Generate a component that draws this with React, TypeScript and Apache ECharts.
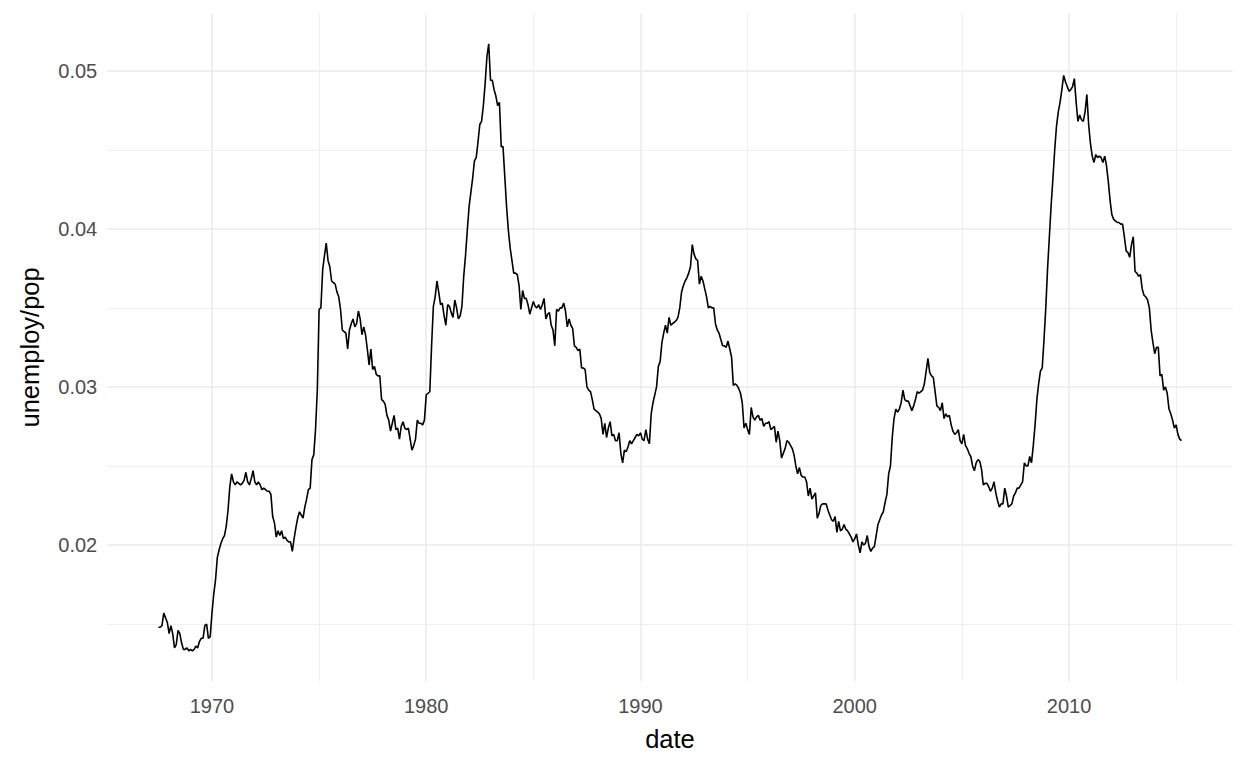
import React, { useEffect, useRef } from "react";
import * as echarts from "echarts";

// Monthly unemploy/pop ratio, starting July 1967
const START_YEAR = 1967;
const START_MONTH = 7;

const ratio1967to1969 = [
  0.0148, 0.0148, 0.0149, 0.0157, 0.0154, 0.0151,
  0.0144, 0.0149, 0.0144, 0.0135, 0.0137, 0.0146, 0.0144, 0.0138, 0.0134, 0.0134, 0.0135, 0.0133,
  0.0134, 0.0133, 0.0134, 0.0136, 0.0135, 0.0139, 0.0141, 0.0141, 0.0149, 0.015, 0.0141, 0.0142,
];
const ratio1970s = [
  0.0157, 0.0169, 0.0178, 0.0192, 0.0197, 0.0201, 0.0204, 0.0206, 0.0212, 0.0222, 0.0237, 0.0245,
  0.024, 0.0238, 0.024, 0.0239, 0.0238, 0.0239, 0.0241, 0.0246, 0.024, 0.0238, 0.0242, 0.0247,
  0.024, 0.0238, 0.024, 0.0238, 0.0235, 0.0236, 0.0235, 0.0234, 0.0234, 0.0232, 0.0218, 0.0214,
  0.0205, 0.0209, 0.0206, 0.0209, 0.0204, 0.0205, 0.0203, 0.0202, 0.0202, 0.0196, 0.0204, 0.0211,
  0.0217, 0.0221, 0.0219, 0.0217, 0.0224, 0.0229, 0.0235, 0.0236, 0.0254, 0.0257, 0.0273, 0.0298,
  0.0349, 0.035, 0.0374, 0.0383, 0.0391, 0.038, 0.0376, 0.0367, 0.0366, 0.0365, 0.036, 0.0357,
  0.0349, 0.0336, 0.0335, 0.0334, 0.0324, 0.0336, 0.034, 0.0343, 0.0338, 0.034, 0.0348, 0.0343,
  0.0333, 0.0338, 0.0333, 0.0324, 0.0314, 0.0324, 0.0311, 0.0313, 0.0308, 0.0307, 0.0307, 0.0292,
  0.0291, 0.0289, 0.0282, 0.0279, 0.0272, 0.0277, 0.0282, 0.0273, 0.0274, 0.0267, 0.0275, 0.0278,
  0.0274, 0.0273, 0.0274, 0.0267, 0.026, 0.0263, 0.0267, 0.0279, 0.0277, 0.0277, 0.0276, 0.0279,
];
const ratio1980s = [
  0.0295, 0.0296, 0.0297, 0.0326, 0.0351, 0.0357, 0.0367, 0.036, 0.0352, 0.0353, 0.0345, 0.0339,
  0.0352, 0.0351, 0.0347, 0.0344, 0.0355, 0.035, 0.0343, 0.0345, 0.0351, 0.037, 0.0383, 0.0399,
  0.0414, 0.0423, 0.0432, 0.0443, 0.0445, 0.0455, 0.0466, 0.0468, 0.0478, 0.0492, 0.0509, 0.0517,
  0.0494, 0.0494, 0.0488, 0.0484, 0.0478, 0.048, 0.0452, 0.0452, 0.0433, 0.0414, 0.0399, 0.0388,
  0.038, 0.0372, 0.0372, 0.0371, 0.0364, 0.0349, 0.0361, 0.0356, 0.0356, 0.0352, 0.0346, 0.035,
  0.0354, 0.0351, 0.035, 0.0352, 0.0349, 0.0352, 0.0356, 0.0343, 0.0346, 0.0347, 0.0339, 0.0336,
  0.0326, 0.0349, 0.0348, 0.035, 0.035, 0.0353, 0.0348, 0.0338, 0.0343, 0.0339, 0.0337, 0.0326,
  0.0325, 0.0323, 0.0324, 0.0312, 0.0312, 0.0311, 0.03, 0.0298, 0.0297, 0.0292, 0.0286, 0.0285,
  0.0284, 0.0283, 0.028, 0.027, 0.0277, 0.0268, 0.0274, 0.0278, 0.0269, 0.027, 0.0266, 0.0266,
  0.0271, 0.0258, 0.0252, 0.026, 0.0259, 0.0262, 0.0266, 0.0264, 0.0266, 0.0268, 0.027, 0.0269,
];
const ratio1990s = [
  0.0271, 0.0267, 0.0266, 0.0273, 0.0267, 0.0264, 0.0283, 0.029, 0.0295, 0.03, 0.0313, 0.0316,
  0.0328, 0.0334, 0.0339, 0.0334, 0.0344, 0.0339, 0.034, 0.0341, 0.0342, 0.0344, 0.035, 0.036,
  0.0364, 0.0367, 0.0369, 0.0372, 0.0376, 0.039, 0.0384, 0.0381, 0.038, 0.0365, 0.037, 0.0367,
  0.0362, 0.0357, 0.035, 0.0351, 0.035, 0.035, 0.034, 0.0336, 0.0334, 0.033, 0.0326, 0.0326,
  0.0325, 0.0329, 0.0324, 0.0319, 0.0301, 0.0302, 0.0301, 0.0299, 0.0296, 0.029, 0.0274, 0.0277,
  0.0273, 0.027, 0.0287, 0.0281, 0.0279, 0.0281, 0.0282, 0.0279, 0.028, 0.0275, 0.0277, 0.0277,
  0.0278, 0.0273, 0.0274, 0.0275, 0.0265, 0.0272, 0.0266, 0.0255, 0.0258, 0.0261, 0.0266, 0.0265,
  0.0263, 0.0261, 0.0257, 0.025, 0.0245, 0.0249, 0.0244, 0.0243, 0.0243, 0.024, 0.0231, 0.0236,
  0.0229, 0.0231, 0.0233, 0.0217, 0.022, 0.0225, 0.0226, 0.0226, 0.0226, 0.0222, 0.0219, 0.0216,
  0.0215, 0.0218, 0.0208, 0.0215, 0.0209, 0.021, 0.0213, 0.021, 0.0209, 0.0207, 0.0205, 0.0202,
];
const ratio2000s = [
  0.0204, 0.0207, 0.02, 0.0195, 0.0202, 0.02, 0.0201, 0.0206, 0.0199, 0.0196, 0.0198, 0.0199,
  0.0206, 0.0213, 0.0216, 0.0219, 0.0221, 0.0227, 0.0232, 0.0245, 0.025, 0.0268, 0.028, 0.0286,
  0.0284, 0.0286, 0.029, 0.0298, 0.0292, 0.0291, 0.0291, 0.0288, 0.0285, 0.0288, 0.0292, 0.0297,
  0.0296, 0.0297, 0.0298, 0.0302, 0.031, 0.0318, 0.0309, 0.0307, 0.0306, 0.0297, 0.0288, 0.0287,
  0.0285, 0.029, 0.028, 0.0283, 0.0281, 0.0282, 0.0276, 0.0272, 0.027, 0.0271, 0.0273, 0.0266,
  0.0264, 0.027, 0.0263, 0.0261, 0.0258, 0.0256, 0.025, 0.0247, 0.0252, 0.0254, 0.0253, 0.0248,
  0.0238, 0.0239, 0.0239, 0.0237, 0.0234, 0.0236, 0.024, 0.0233, 0.0228, 0.0224, 0.0226, 0.0226,
  0.0236, 0.0231, 0.0224, 0.0225, 0.0226, 0.0231, 0.0233, 0.0236, 0.0236, 0.0238, 0.024, 0.0252,
  0.025, 0.025, 0.0256, 0.0252, 0.0263, 0.0276, 0.0292, 0.0302, 0.031, 0.0312, 0.033, 0.035,
  0.0375, 0.0395, 0.0415, 0.0432, 0.045, 0.0465, 0.0474, 0.048, 0.0488, 0.0497, 0.0493, 0.049,
];
const ratio2010s = [
  0.0487, 0.0488, 0.049, 0.0495, 0.048, 0.0468, 0.0472, 0.0469, 0.0468, 0.0474, 0.0485, 0.0466,
  0.0454, 0.0446, 0.0442, 0.0447, 0.0445, 0.0446, 0.0445, 0.0442, 0.0446, 0.044, 0.043, 0.0418,
  0.0409, 0.0406, 0.0405, 0.0404, 0.0404, 0.0403, 0.0403, 0.0395, 0.0386, 0.0385, 0.0382, 0.039,
  0.0395, 0.0373, 0.0372, 0.037, 0.0371, 0.0362, 0.0358, 0.0357, 0.0355, 0.035, 0.0336, 0.0328,
  0.0321, 0.0325, 0.0325, 0.0307, 0.0308, 0.0298, 0.03, 0.0296, 0.0286, 0.0283, 0.0279, 0.0274,
  0.0276, 0.027, 0.0267, 0.0266,
];

const ratioSeries = [
  ...ratio1967to1969,
  ...ratio1970s,
  ...ratio1980s,
  ...ratio1990s,
  ...ratio2000s,
  ...ratio2010s,
];

// Axis ranges (ggplot's 5% expansion) in decimal years and ratio units
const X_MIN = 1965.11;
const X_MAX = 2017.64;
const Y_MIN = 0.01138;
const Y_MAX = 0.05362;
const X_MAJOR = 10;
const Y_MAJOR = 0.01;

const FONT = "'Liberation Sans', Arial, Helvetica, sans-serif";
const TICK_SIZE = 20;
const TITLE_SIZE = 25.5;

function buildPoints(): [number, number][] {
  return ratioSeries.map((v, i) => {
    const idx = START_MONTH - 1 + i;
    const year = START_YEAR + Math.floor(idx / 12);
    const month = idx % 12;
    return [year + month / 12, v];
  });
}

const isMultiple = (v: number, step: number) =>
  Math.abs(v / step - Math.round(v / step)) < 1e-6;

export default function App() {
  const ref = useRef<HTMLDivElement>(null);

  useEffect(() => {
    if (!ref.current) return;
    const chart = echarts.init(ref.current, undefined, { renderer: "svg" });
    const hidden = {
      axisLine: { show: false },
      axisTick: { show: false },
      axisLabel: { show: false },
    };
    chart.setOption({
      animation: false,
      backgroundColor: "#ffffff",
      textStyle: { fontFamily: FONT },
      grid: {
        left: 107.2,
        right: 15.3,
        top: 13.5,
        bottom: 86.7,
        containLabel: false,
        outerBoundsMode: "none",
      },
      xAxis: [
        {
          type: "value",
          min: X_MIN,
          max: X_MAX,
          minInterval: X_MAJOR,
          maxInterval: X_MAJOR,
          axisLine: { show: false },
          axisTick: { show: false },
          axisLabel: {
            color: "#4d4d4d",
            fontSize: TICK_SIZE,
            fontFamily: FONT,
            margin: 15,
            showMinLabel: false,
            showMaxLabel: false,
            formatter: (v: number) => (isMultiple(v, X_MAJOR) ? String(Math.round(v)) : ""),
          },
          splitLine: {
            show: true,
            showMinLine: false,
            showMaxLine: false,
            lineStyle: { color: "#ebebeb", width: 1.6 },
          },
          name: "date",
          nameLocation: "middle",
          nameGap: 45,
          nameTextStyle: { color: "#000000", fontSize: TITLE_SIZE, fontFamily: FONT },
          z: 0,
        },
        {
          // minor grid: same span shifted by half a major step
          type: "value",
          position: "top",
          min: X_MIN - X_MAJOR / 2,
          max: X_MAX - X_MAJOR / 2,
          minInterval: X_MAJOR,
          maxInterval: X_MAJOR,
          ...hidden,
          splitLine: {
            show: true,
            showMinLine: false,
            showMaxLine: false,
            lineStyle: { color: "#ebebeb", width: 0.8 },
          },
          z: 0,
        },
      ],
      yAxis: [
        {
          type: "value",
          min: Y_MIN,
          max: Y_MAX,
          minInterval: Y_MAJOR,
          maxInterval: Y_MAJOR,
          axisLine: { show: false },
          axisTick: { show: false },
          axisLabel: {
            color: "#4d4d4d",
            fontSize: TICK_SIZE,
            fontFamily: FONT,
            margin: 10,
            showMinLabel: false,
            showMaxLabel: false,
            formatter: (v: number) => (isMultiple(v, Y_MAJOR) ? v.toFixed(2) : ""),
          },
          splitLine: {
            show: true,
            showMinLine: false,
            showMaxLine: false,
            lineStyle: { color: "#ebebeb", width: 1.6 },
          },
          name: "unemploy/pop",
          nameLocation: "middle",
          nameGap: 64,
          nameRotate: 90,
          nameTextStyle: { color: "#000000", fontSize: TITLE_SIZE, fontFamily: FONT },
          z: 0,
        },
        {
          type: "value",
          position: "right",
          min: Y_MIN - Y_MAJOR / 2,
          max: Y_MAX - Y_MAJOR / 2,
          minInterval: Y_MAJOR,
          maxInterval: Y_MAJOR,
          ...hidden,
          splitLine: {
            show: true,
            showMinLine: false,
            showMaxLine: false,
            lineStyle: { color: "#ebebeb", width: 0.8 },
          },
          z: 0,
        },
      ],
      series: [
        {
          type: "line",
          xAxisIndex: 0,
          yAxisIndex: 0,
          data: buildPoints(),
          showSymbol: false,
          symbol: "none",
          smooth: false,
          lineStyle: { color: "#000000", width: 1.6 },
          z: 5,
        },
      ],
    });
    return () => chart.dispose();
  }, []);

  return (
    <div
      ref={ref}
      style={{ position: "absolute", left: 0, top: 0, width: 1248, height: 768 }}
    />
  );
}
